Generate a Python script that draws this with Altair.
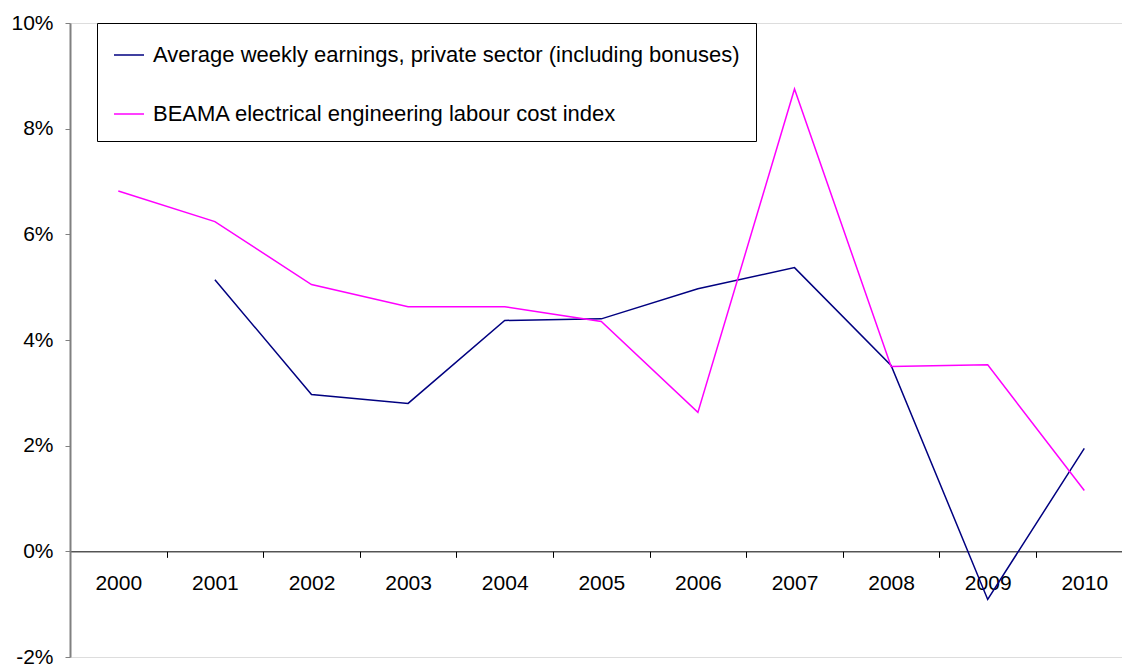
import altair as alt
import pandas as pd

years_awe = [2001, 2002, 2003, 2004, 2005, 2006, 2007, 2008, 2009, 2010]
awe = [5.14, 2.97, 2.80, 4.37, 4.40, 4.97, 5.37, 3.52, -0.91, 1.95]

years_beama = [2000, 2001, 2002, 2003, 2004, 2005, 2006, 2007, 2008, 2009, 2010]
beama = [6.82, 6.24, 5.05, 4.63, 4.63, 4.35, 2.63, 8.75, 3.50, 3.53, 1.15]

s1 = "Average weekly earnings, private sector (including bonuses)"
s2 = "BEAMA electrical engineering labour cost index"
year_ticks = [2000, 2001, 2002, 2003, 2004, 2005, 2006, 2007, 2008, 2009, 2010]
y_ticks = [-2, 0, 2, 4, 6, 8, 10]

rows = [{"year": y, "value": v, "series": s1} for y, v in zip(years_awe, awe)]
rows += [{"year": y, "value": v, "series": s2} for y, v in zip(years_beama, beama)]
df = pd.DataFrame(rows)

W = 1052
H = 634
x_min = 1999.5
step = 96.6
x_max = x_min + W / step
half = step / 2

FONT = "Liberation Sans"

chart = alt.Chart(df).mark_line(strokeWidth=1.5, clip=True).encode(
    x=alt.X("year:Q",
            scale=alt.Scale(domain=[x_min, x_max], nice=False, zero=False),
            axis=alt.Axis(values=year_ticks, format="d", title=None,
                          offset=-(H / 6), tickOffset=-half, labelOffset=half,
                          tickSize=6, tickColor="black", domainColor="black",
                          domainWidth=1, labelFontSize=21, labelFont=FONT,
                          labelColor="black", labelPadding=15, grid=False,
                          labelFlush=False, labelOverlap=False)),
    y=alt.Y("value:Q",
            scale=alt.Scale(domain=[-2, 10], nice=False, zero=False),
            axis=alt.Axis(values=y_ticks, labelExpr="datum.value + '%'", title=None,
                          tickSize=5, tickColor="#808080", domainColor="#808080",
                          domainWidth=2, labelFontSize=21, labelFont=FONT,
                          labelColor="black", labelPadding=12, grid=False,
                          labelFlush=False, labelOverlap=False)),
    color=alt.Color("series:N",
                    scale=alt.Scale(domain=[s1, s2], range=["#000080", "#ff00ff"]),
                    legend=alt.Legend(orient="none", legendX=27, legendY=0,
                                      title=None, direction="vertical",
                                      labelFontSize=22, labelFont=FONT,
                                      labelColor="black", labelLimit=1000,
                                      symbolType="stroke", symbolSize=900,
                                      symbolStrokeWidth=1.5, labelOffset=8,
                                      strokeColor="black", fillColor="white",
                                      padding=16, rowPadding=32,
                                      labelPadding=0)),
).properties(
    width=W, height=H,
    autosize=alt.AutoSizeParams(type="none"),
    padding={"left": 70, "top": 23, "right": 0, "bottom": 7},
).configure_view(strokeWidth=0).configure(background="white")

chart.save("out.html", embed_options={"renderer": "svg", "actions": False})
